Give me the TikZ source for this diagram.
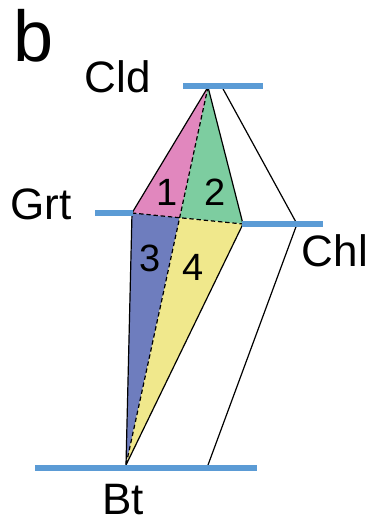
\documentclass[tikz,border=0pt]{standalone}
\usepackage{fontspec}
\setmainfont{Liberation Sans}
\usepackage{xcolor}
\usepackage{tikz}
\usetikzlibrary{positioning,calc}
\definecolor{cline}{RGB}{91,155,213}
\definecolor{cpink}{RGB}{225,135,190}
\definecolor{cgreen}{RGB}{125,205,160}
\definecolor{cblue}{RGB}{110,125,190}
\definecolor{cyellow}{RGB}{240,232,140}

\begin{document}
\begin{tikzpicture}[
  x=0.5pt,y=-0.5pt,
  lvl/.style={cline,line width=3pt},
  edge/.style={black,line width=0.6pt,line join=round},
  tie/.style={black,line width=0.6pt,dash pattern=on 2.2pt off 1.4pt},
  lbl/.style={inner sep=0,font=\fontsize{22}{24}\selectfont},
  num/.style={inner sep=0,font=\fontsize{19}{21}\selectfont},
]
\useasboundingbox (0,0) rectangle (375,523);
% --- phase points ---
\coordinate (cld) at (208,87);
\coordinate (grt) at (132,213);
\coordinate (chl) at (243,224);
\coordinate (bt)  at (126,465);
\coordinate (x)   at (intersection of cld--bt and grt--chl);
\coordinate (o1)  at (222,87);
\coordinate (o2)  at (297,224);
\coordinate (o3)  at (208,465);
% --- sub-triangles ---
\fill[cpink]   (cld)--(grt)--(x)--cycle;
\fill[cgreen]  (cld)--(x)--(chl)--cycle;
\fill[cblue]   (grt)--(x)--(bt)--cycle;
\fill[cyellow] (x)--(chl)--(bt)--cycle;
\draw[edge] (cld)--(grt)--(bt)--(chl)--cycle;
\draw[tie] (cld)--(bt); \draw[tie] (grt)--(chl);
\draw[edge] (o1)--(o2)--(o3);
% --- level bars ---
\draw[lvl] (183,86)--(263,86);
\draw[lvl] (95,213)--(133,213);
\draw[lvl] (242,224)--(323,224);
\draw[lvl] (35,468)--(257,468);
% --- labels ---
\node[inner sep=0,font=\fontsize{36}{40}\selectfont] (tag) at (34,36) {b};
\node[lbl] (lcld) at (118,77) {Cld};
\node[lbl] (lgrt) at (41,204) {Grt};
\node[lbl] (lchl) at (335,251) {Chl};
\node[lbl] (lbt)  at (123,500) {Bt};
\node[num] (n1) at (167,192) {1};
\node[num] (n2) at (215,192) {2};
\node[num] (n3) at (150,258) {3};
\node[num] (n4) at (193,267) {4};
\end{tikzpicture}
\end{document}
